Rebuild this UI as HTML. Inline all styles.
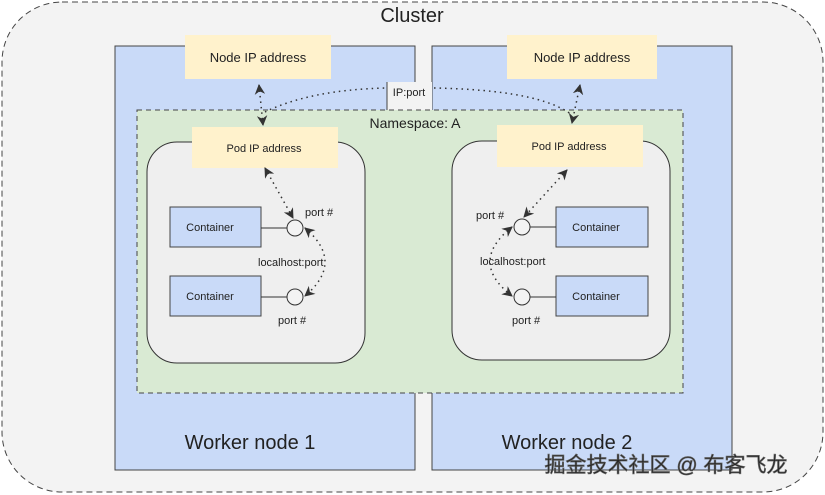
<!DOCTYPE html>
<html><head><meta charset="utf-8"><style>
html,body{margin:0;padding:0;background:#fff;}
svg{display:block;}
text{font-family:"Liberation Sans","Noto Sans CJK SC",sans-serif;fill:#222;}
</style></head><body>
<svg width="825" height="495" viewBox="0 0 825 495" xmlns="http://www.w3.org/2000/svg">
<defs>
<marker id="a" viewBox="0 0 10 10" refX="9" refY="5" markerWidth="7" markerHeight="7" orient="auto-start-reverse"><path d="M0,0 L10,5 L0,10 L3,5 z" fill="#333"/></marker>
</defs>
<rect x="2" y="2" width="821" height="490" rx="60" fill="#f3f3f3" stroke="#444" stroke-dasharray="6,4"/>
<text x="412" y="22" font-size="20" text-anchor="middle">Cluster</text>
<rect x="115" y="46" width="300" height="424" fill="#c9daf8" stroke="#444"/>
<rect x="432" y="46" width="300" height="424" fill="#c9daf8" stroke="#444"/>
<rect x="387" y="82" width="45" height="28" fill="#f3f3f3"/>
<line x1="387" y1="82" x2="387" y2="110" stroke="#444"/>
<rect x="137" y="110" width="546" height="283" fill="#d9ead3" stroke="#444" stroke-dasharray="5,4"/>
<text x="415" y="128" font-size="14" text-anchor="middle">Namespace: A</text>
<text x="409" y="96" font-size="11" text-anchor="middle">IP:port</text>
<rect x="185" y="35" width="146" height="44" fill="#fff2cc"/>
<text x="258" y="62" font-size="13" text-anchor="middle">Node IP address</text>
<rect x="507" y="35" width="150" height="44" fill="#fff2cc"/>
<text x="582" y="62" font-size="13" text-anchor="middle">Node IP address</text>
<text x="250" y="449" font-size="20" text-anchor="middle">Worker node 1</text>
<text x="567" y="449" font-size="20" text-anchor="middle">Worker node 2</text>
<rect x="147" y="142" width="218" height="221" rx="30" fill="#efefef" stroke="#333"/>
<rect x="452" y="141" width="218" height="219" rx="30" fill="#efefef" stroke="#333"/>
<rect x="192" y="127" width="146" height="41" fill="#fff2cc"/>
<text x="264" y="152" font-size="11" text-anchor="middle">Pod IP address</text>
<rect x="497" y="125" width="146" height="42" fill="#fff2cc"/>
<text x="569" y="150" font-size="11" text-anchor="middle">Pod IP address</text>
<g fill="#c9daf8" stroke="#444">
<rect x="170" y="207" width="91" height="40"/><rect x="170" y="276" width="91" height="40"/>
<rect x="556" y="207" width="92" height="40"/><rect x="556" y="276" width="92" height="40"/>
</g>
<g font-size="11" text-anchor="middle">
<text x="210" y="231">Container</text><text x="210" y="300">Container</text>
<text x="596" y="231">Container</text><text x="596" y="300">Container</text>
</g>
<g stroke="#333" fill="#f3f3f3">
<line x1="261" y1="228" x2="287" y2="228"/><line x1="261" y1="297" x2="287" y2="297"/>
<line x1="530" y1="227" x2="556" y2="227"/><line x1="530" y1="297" x2="556" y2="297"/>
<circle cx="295" cy="228" r="8"/><circle cx="295" cy="297" r="8"/>
<circle cx="522" cy="227" r="8"/><circle cx="522" cy="297" r="8"/>
</g>
<g font-size="11">
<text x="305" y="216">port #</text><text x="278" y="324">port #</text>
<text x="258" y="266">localhost:port</text>
<text x="476" y="219">port #</text><text x="512" y="324">port #</text>
<text x="480" y="265">localhost:port</text>
</g>
<g fill="none" stroke="#333" stroke-width="1.5" stroke-dasharray="1.5,4" marker-start="url(#a)" marker-end="url(#a)">
<path d="M259,85 L263,125"/>
<path d="M580,85 L572,123"/>
<path d="M265,168 L293,218"/>
<path d="M305,228 Q345,262 305,296"/>
<path d="M567,170 L524,217"/>
<path d="M512,227 Q468,262 512,296"/>
</g>
<g fill="none" stroke="#333" stroke-width="1.5" stroke-dasharray="1.5,4">
<path d="M265,112 Q310,90 385,88"/>
<path d="M434,88 Q540,90 572,115"/>
</g>
<text x="666" y="472" font-size="21" text-anchor="middle" fill="#f6f6f6" stroke="#666" stroke-width="0.7">掘金技术社区 @ 布客飞龙</text>
</svg>
</body></html>
